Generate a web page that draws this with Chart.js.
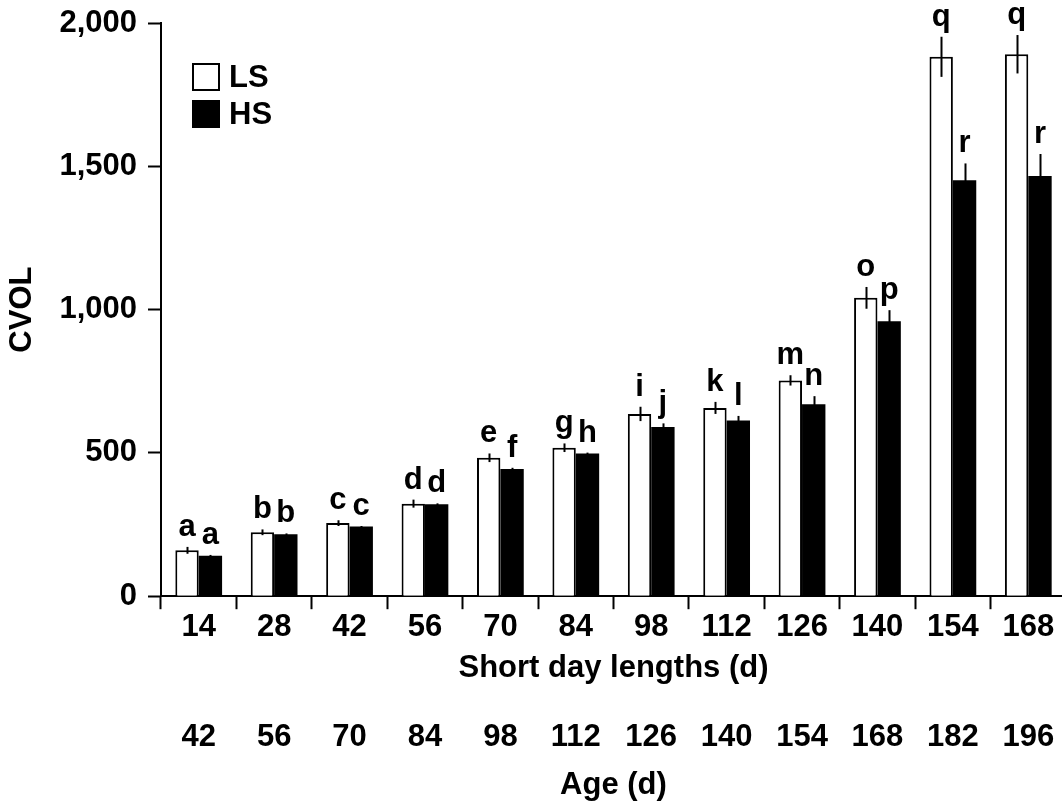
<!DOCTYPE html>
<html>
<head>
<meta charset="utf-8">
<script src="https://cdn.jsdelivr.net/npm/chart.js@4.4.0/dist/chart.umd.min.js"></script>
<style>
  html, body { margin: 0; padding: 0; background: #fff; overflow: hidden; }
</style>
</head>
<body>
<canvas id="chart" width="1080" height="810"></canvas>
<script>
// data
const shortDays = ["14", "28", "42", "56", "70", "84", "98", "112", "126", "140", "154", "168"];
const ages = ["42", "56", "70", "84", "98", "112", "126", "140", "154", "168", "182", "196"];
const lsValues = [160, 223, 255, 323, 483, 518, 636, 657, 753, 1041, 1882, 1891];
const hsValues = [141, 216, 243, 321, 444, 498, 590, 613, 670, 959, 1451, 1466];
const lsErrors = [12, 10, 10, 14, 15, 15, 25, 21, 18, 38, 70, 67];
const hsErrors = [3, 3, 2, 3, 4, 3, 13, 16, 28, 39, 59, 77];
const lsLetters = ["a", "b", "c", "d", "e", "g", "i", "k", "m", "o", "q", "q"];
const hsLetters = ["a", "b", "c", "d", "f", "h", "j", "l", "n", "p", "r", "r"];
const yMin = 0;
const yMax = 2000;
const yStep = 500;

const FONT = "'Liberation Sans', Arial, Helvetica, sans-serif";
const FONT_SIZE = 31;
const boldFont = { family: FONT, size: FONT_SIZE, weight: "bold" };

Chart.defaults.font.family = FONT;
Chart.defaults.color = "#000";

// keep the plot box fixed: no extra room for half labels
const noEdgePadding = (scale) => {
  scale.paddingTop = 0;
  scale.paddingBottom = 0;
  scale.paddingLeft = 0;
  scale.paddingRight = 0;
};

// error bars + significance letters on top of every bar
const errorBarPlugin = {
  id: "errorBars",
  afterDatasetsDraw(chart) {
    const ctx = chart.ctx;
    const y = chart.scales.y;
    ctx.save();
    ctx.strokeStyle = "#000";
    ctx.lineWidth = 2;
    ctx.fillStyle = "#000";
    ctx.font = `bold ${FONT_SIZE}px ${FONT}`;
    ctx.textAlign = "center";
    ctx.textBaseline = "alphabetic";
    chart.data.datasets.forEach((ds, i) => {
      chart.getDatasetMeta(i).data.forEach((bar, j) => {
        const v = ds.data[j];
        const e = ds.errors[j];
        const top = y.getPixelForValue(v + e);
        const bot = y.getPixelForValue(v - e);
        const x = Math.round(bar.x) + 0.5;
        ctx.beginPath();
        ctx.moveTo(x, top);
        ctx.lineTo(x, bot);
        ctx.stroke();
        ctx.fillText(ds.letters[j], bar.x, top - 11);
      });
    });
    ctx.restore();
  },
};

// legend box in the upper left of the plot
const boxLegendPlugin = {
  id: "boxLegend",
  afterDraw(chart) {
    const ctx = chart.ctx;
    ctx.save();
    ctx.font = `bold ${FONT_SIZE}px ${FONT}`;
    ctx.textBaseline = "middle";
    ctx.textAlign = "left";
    chart.data.datasets.forEach((ds, i) => {
      const top = 63 + i * 37;
      ctx.fillStyle = ds.backgroundColor;
      ctx.fillRect(192, top, 28, 28);
      ctx.strokeStyle = "#000";
      ctx.lineWidth = 2;
      ctx.strokeRect(193, top + 1, 26, 26);
      ctx.fillStyle = "#000";
      ctx.fillText(ds.label, 229, top + 15);
    });
    ctx.restore();
  },
};

const config = {
  type: "bar",
  data: {
    labels: shortDays,
    datasets: [
      {
        label: "LS",
        data: lsValues,
        errors: lsErrors,
        letters: lsLetters,
        backgroundColor: "#fff",
        borderColor: "#000",
        borderWidth: 2,
      },
      {
        label: "HS",
        data: hsValues,
        errors: hsErrors,
        letters: hsLetters,
        backgroundColor: "#000",
        borderColor: "#000",
        borderWidth: 0,
      },
    ],
  },
  options: {
    responsive: false,
    animation: false,
    devicePixelRatio: 1,
    categoryPercentage: 0.62,
    barPercentage: 1.0,
    layout: {
      padding: { left: 0, top: 23, right: 14, bottom: 6 },
    },
    plugins: {
      legend: { display: false },
      tooltip: { enabled: false },
    },
    scales: {
      x: {
        offset: true,
        afterFit: noEdgePadding,
        grid: {
          offset: true,
          drawOnChartArea: false,
          drawTicks: true,
          tickLength: 13,
          tickWidth: 2,
          tickColor: "#000",
        },
        border: { display: true, color: "#000", width: 2 },
        ticks: {
          color: "#000",
          font: boldFont,
          padding: 0,
          maxRotation: 0,
          autoSkip: false,
        },
        title: {
          display: true,
          text: "Short day lengths (d)",
          color: "#000",
          font: boldFont,
          padding: { top: 3, bottom: 27 },
        },
      },
      x2: {
        type: "category",
        labels: ages,
        position: "bottom",
        weight: 1,
        offset: true,
        afterFit: noEdgePadding,
        grid: { display: false, drawTicks: false },
        border: { display: false },
        ticks: {
          color: "#000",
          font: boldFont,
          padding: 5,
          maxRotation: 0,
          autoSkip: false,
        },
        title: {
          display: true,
          text: "Age (d)",
          color: "#000",
          font: boldFont,
          padding: { top: 6, bottom: 0 },
        },
      },
      y: {
        min: yMin,
        max: yMax,
        afterFit(scale) {
          scale.width = 161;
          noEdgePadding(scale);
        },
        grid: {
          drawOnChartArea: false,
          drawTicks: true,
          tickLength: 13,
          tickWidth: 2,
          tickColor: "#000",
        },
        border: { display: true, color: "#000", width: 2 },
        ticks: {
          stepSize: yStep,
          color: "#000",
          font: boldFont,
          padding: 11,
          callback: (val) => val.toLocaleString("en-US"),
        },
        title: {
          display: true,
          text: "CVOL",
          color: "#000",
          font: boldFont,
          padding: { top: 4, bottom: 0 },
        },
      },
    },
  },
  plugins: [errorBarPlugin, boxLegendPlugin],
};

new Chart(document.getElementById("chart"), config);
</script>
</body>
</html>
